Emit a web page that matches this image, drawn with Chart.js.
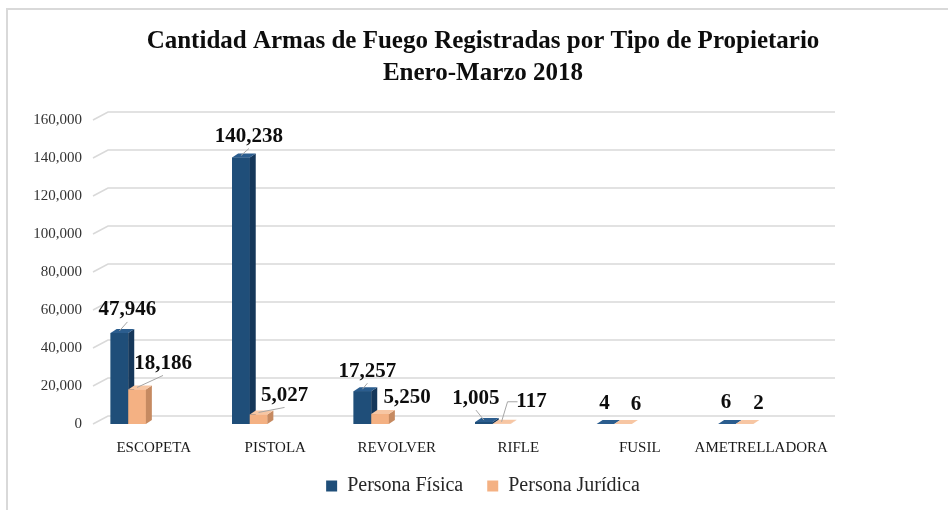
<!DOCTYPE html>
<html>
<head>
<meta charset="utf-8">
<script src="https://cdn.jsdelivr.net/npm/chart.js@4.4.1/dist/chart.umd.min.js"></script>
<style>
  html, body { margin: 0; padding: 0; background: #fff; }
  #wrap { width: 948px; height: 510px; }
</style>
</head>
<body>
<div id="wrap"><canvas id="armasChart" width="948" height="510"></canvas></div>
<script>
const categories = ['ESCOPETA', 'PISTOLA', 'REVOLVER', 'RIFLE', 'FUSIL', 'AMETRELLADORA'];
const personaFisica = [47946, 140238, 17257, 1005, 4, 6];
const personaJuridica = [18186, 5027, 5250, 117, 6, 2];
const yTicks = [0, 20000, 40000, 60000, 80000, 100000, 120000, 140000, 160000];

const fmt = v => v.toLocaleString('en-US');

// label placement (relative to bar top centre) + leader style: 0 none, 1 straight, 2 elbow
const labelPos = [
    [[8, -23, 1], [8, -21, 1], [5, -20, 1], [-8, -24, 1], [-1, -20, 0], [-1, -21, 0]],
    [[26, -26, 1], [26, -19, 1], [27, -16, 0], [30, -22, 2], [13, -19, 0], [14, -20, 0]]
];
const faces = [
    { front: '#1f4e79', side: '#15375a', top: '#2b5d8e' },
    { front: '#f4b183', side: '#c68a61', top: '#f7c6a3' }
];
const DX = 6, DY = 4;

const bars3d = {
    id: 'bars3d',
    beforeDraw(chart) {
        const ctx = chart.ctx;
        ctx.save();
        ctx.strokeStyle = '#d9d9d9';
        ctx.lineWidth = 2;
        ctx.beginPath();
        ctx.moveTo(7, 520);
        ctx.lineTo(7, 9);
        ctx.lineTo(960, 9);
        ctx.stroke();
        ctx.restore();
    },
    beforeDatasetsDraw(chart) {
        const { ctx, chartArea: a, scales: { x, y } } = chart;
        // back wall gridlines with a short slanted side wall
        ctx.save();
        ctx.strokeStyle = '#d9d9d9';
        ctx.lineWidth = 1.5;
        yTicks.forEach(t => {
            const py = y.getPixelForValue(t);
            ctx.beginPath();
            ctx.moveTo(a.left, py);
            ctx.lineTo(a.left + 15, py - 8);
            ctx.lineTo(a.right + 13, py - 8);
            ctx.stroke();
        });
        ctx.restore();
        chart.$shift = (x.getPixelForValue(1) - x.getPixelForValue(0)) * 0.21;
        ctx.save();
        ctx.translate(-chart.$shift, 0);
    },
    afterDatasetsDraw(chart) {
        const ctx = chart.ctx;
        // redraw the boxes in stacking order: blue then orange
        chart.data.datasets.forEach((ds, di) => {
            const f = faces[di];
            chart.getDatasetMeta(di).data.forEach(b => {
                const x0 = b.x - b.width / 2, x1 = b.x + b.width / 2;
                const top = b.y, base = b.base;
                ctx.fillStyle = f.front;
                ctx.fillRect(x0, top, x1 - x0, base - top);
                ctx.fillStyle = f.side;
                ctx.beginPath();
                ctx.moveTo(x1, top);
                ctx.lineTo(x1 + DX, top - DY);
                ctx.lineTo(x1 + DX, base - DY);
                ctx.lineTo(x1, base);
                ctx.closePath();
                ctx.fill();
                ctx.fillStyle = f.top;
                ctx.beginPath();
                ctx.moveTo(x0, top);
                ctx.lineTo(x0 + DX, top - DY);
                ctx.lineTo(x1 + DX, top - DY);
                ctx.lineTo(x1, top);
                ctx.closePath();
                ctx.fill();
            });
        });
        ctx.restore();

        const shift = chart.$shift;
        ctx.save();
        ctx.font = 'bold 21px "Liberation Serif"';
        ctx.textAlign = 'center';
        ctx.textBaseline = 'middle';
        chart.data.datasets.forEach((ds, di) => {
            chart.getDatasetMeta(di).data.forEach((b, i) => {
                const [ox, oy, lead] = labelPos[di][i];
                const bx = b.x - shift, by = b.y;
                const lx = bx + ox, ly = by + oy;
                ctx.strokeStyle = '#a6a6a6';
                ctx.lineWidth = 1;
                if (lead === 1) {
                    ctx.beginPath();
                    ctx.moveTo(bx, by - 2);
                    ctx.lineTo(lx, ly + 12);
                    ctx.stroke();
                } else if (lead === 2) {
                    ctx.beginPath();
                    ctx.moveTo(bx, by - 2);
                    ctx.lineTo(bx + 6, ly);
                    ctx.lineTo(lx - 14, ly);
                    ctx.stroke();
                }
                ctx.fillStyle = '#0d0d0d';
                ctx.fillText(fmt(ds.data[i]), lx, ly);
            });
        });
        ctx.restore();
    }
};

new Chart(document.getElementById('armasChart'), {
    type: 'bar',
    data: {
        labels: categories,
        datasets: [
            { label: 'Persona Física', data: personaFisica, backgroundColor: '#1f4e79' },
            { label: 'Persona Jurídica', data: personaJuridica, backgroundColor: '#f4b183' }
        ]
    },
    options: {
        responsive: false,
        animation: false,
        categoryPercentage: 0.29,
        barPercentage: 1.0,
        layout: { padding: { left: 18, right: 0, top: 0, bottom: 4 } },
        plugins: {
            title: {
                display: true,
                text: ['Cantidad Armas de Fuego Registradas por Tipo de Propietario', 'Enero-Marzo 2018'],
                color: '#0d0d0d',
                font: { family: '"Liberation Serif"', size: 25, weight: 'bold', lineHeight: 1.28 },
                padding: { top: 26, bottom: 30 }
            },
            legend: {
                position: 'bottom',
                labels: {
                    boxWidth: 11,
                    boxHeight: 11,
                    padding: 24,
                    color: '#262626',
                    font: { family: '"Liberation Serif"', size: 20 }
                }
            },
            tooltip: { enabled: false }
        },
        scales: {
            x: {
                grid: { display: false, drawTicks: false },
                border: { display: false },
                ticks: {
                    color: '#1a1a1a', padding: 15, maxRotation: 0, minRotation: 0, autoSkip: false,
                    font: { family: '"Liberation Serif"', size: 15 }
                },
                afterFit: s => { s.height = 28; }
            },
            y: {
                min: 0,
                max: 160000,
                grid: { display: false, drawTicks: false },
                border: { display: false },
                afterBuildTicks: s => { s.ticks = yTicks.map(v => ({ value: v })); },
                afterFit: s => { s.width = 75; },
                ticks: {
                    color: '#333333',
                    padding: 11,
                    font: { family: '"Liberation Serif"', size: 15 },
                    callback: v => fmt(v)
                }
            },
            // empty right-hand gutter, keeps the plot narrower than the title/legend
            yGutter: {
                position: 'right',
                grid: { display: false, drawTicks: false },
                border: { display: false },
                ticks: { display: false },
                afterFit: s => { s.width = 126; }
            }
        }
    },
    plugins: [bars3d]
});
</script>
</body>
</html>
